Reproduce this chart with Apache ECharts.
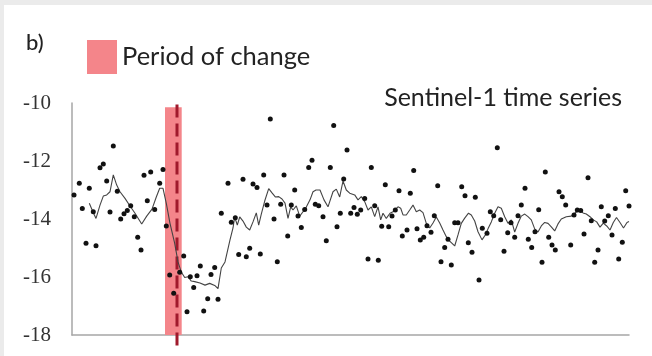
<!DOCTYPE html>
<html>
<head>
<meta charset="utf-8">
<script src="https://cdn.jsdelivr.net/npm/echarts@6/dist/echarts.min.js"></script>
<style>
  html, body { margin: 0; padding: 0; background: #ebebeb; }
  #chart { position: absolute; left: 4px; top: 5px; width: 648px; height: 351px; background: #fff; }
</style>
</head>
<body>
<div id="chart"></div>
<script>
// observation day (relative, no axis labels in the figure) and backscatter in dB
const obsDay = [2,7.3,10.3,14,17.3,21.3,24,28,31.3,34.7,38,41.3,45.3,48.7,52,55.3,58.7,62.3,65.7,69,
  72,75.3,78.7,82.7,87.7,91,94.3,97.7,101.7,107.7,111.7,115,118.3,121.7,125,128.3,131.7,135.7,139,142.7,
  146,149.3,156,159.3,163.3,166.7,171,174.3,177.7,181,185,188.3,191.7,195,198.3,202,205.3,208.7,212,215.7,
  219.3,222.7,226,229.3,232.7,236.7,240,243.3,246.7,251,254.3,258.3,261.7,265,268.3,271.7,275,278.7,282,285.3,
  288.7,292.7,296,299.3,302.7,306.3,309.7,313.3,316.7,320,323.3,327,330.3,335,338.3,341.7,345,348.3,351.7,355,
  359,362.3,365.7,369,372.7,376,379.3,382.7,386,389.7,393,396.3,400,403.3,407,410.3,415,418.3,421.7,425.3,
  428.7,432,435.7,439,442.7,446,449.3,453,456.3,459.7,463,466.7,470,473.3,476.7,480,483.3,487,490.3,493.7,
  498.7,502,505.3,508.7,512,516,519.3,522.7,526,529.3,532.7,536.3,540,543.3,546.7,550.3,553.7,557];
const obsDb = [-13.17,-12.77,-13.64,-14.84,-12.94,-13.75,-14.92,-12.23,-12.10,-12.69,
  -13.76,-11.48,-13.04,-14.00,-13.82,-13.71,-13.54,-13.92,-14.63,-15.07,
  -12.49,-13.37,-12.38,-13.67,-12.77,-12.29,-14.24,-15.93,-16.56,-15.84,
  -15.28,-17.20,-15.99,-16.36,-15.96,-15.62,-17.17,-16.75,-15.91,-15.67,
  -16.77,-13.80,-12.77,-14.11,-13.96,-15.22,-12.63,-15.30,-15.01,-12.79,
  -12.91,-15.21,-12.48,-13.52,-10.55,-14.00,-15.47,-13.49,-12.48,-14.59,
  -13.52,-13.00,-13.90,-14.29,-13.67,-12.22,-11.97,-13.49,-13.54,-13.92,
  -14.75,-12.22,-10.78,-14.27,-13.80,-12.62,-11.62,-13.80,-13.60,-13.84,
  -13.69,-13.29,-15.38,-12.22,-13.54,-15.42,-14.25,-12.82,-14.27,-13.90,
  -13.69,-13.03,-14.59,-14.38,-13.11,-12.33,-14.34,-14.72,-14.63,-14.23,
  -14.46,-13.89,-12.85,-15.47,-14.98,-14.70,-15.59,-14.13,-14.13,-12.89,
  -13.20,-14.82,-15.15,-13.25,-16.10,-14.32,-14.49,-13.75,-13.89,-11.54,
  -14.03,-15.11,-14.47,-14.13,-14.63,-13.89,-13.52,-12.94,-14.70,-14.98,
  -14.44,-13.68,-15.49,-12.38,-14.63,-14.90,-15.07,-13.06,-13.23,-13.52,
  -14.90,-13.86,-13.69,-13.71,-14.52,-12.58,-14.06,-15.49,-15.07,-13.58,
  -14.07,-13.89,-14.55,-13.64,-15.38,-14.80,-13.03,-13.55];

// smoothed curve
const avgDay = [17.3,21,24,28,31.3,34.7,38,41.3,44.7,48,53,58,63,69.7,74.7,80,84.3,87.7,91,94.3,
  98,102.7,106,109.3,112.7,116,119.3,122.7,128,133,137.7,142.7,146,149.3,153,158,161,162.7,165.3,167.7,
  171,174.3,177.7,181,184.3,186.7,189.3,192.7,196.7,200,203.3,206.7,210,213,216,218.7,221,224.3,227.7,231,
  234.3,238,241,244,248,252,256,261,264.3,267.7,271,274.3,277.7,282.7,286,289.3,292.7,296,299.3,302.7,
  306,308.7,311,314.3,318,321,326,328.7,331,334.3,337.7,341,344.3,347.7,351,354.3,357.7,361,364.3,367.7,
  371,374.3,377.7,382.7,386,389.3,392.7,396.5,399.3,402.7,406,410,413.3,416,419.3,422.7,426,429.3,432.7,436,
  439.3,442.7,446,449.3,452.7,456,459.3,462.7,466,469.3,472.7,476,479.3,482.7,486,489.3,494.3,499.3,504.3,507.7,
  511,514.3,518,521.3,524.7,528,531.3,534.7,538,541.3,544.5,548,551.5,555,557];
const avgDb = [-13.46,-13.76,-13.98,-13.52,-13.21,-13.17,-13.06,-12.48,-12.83,-13.06,
  -13.29,-13.55,-13.80,-14.17,-13.90,-13.66,-13.24,-12.94,-12.94,-13.46,
  -14.15,-14.84,-15.48,-15.83,-16.02,-15.99,-16.14,-16.16,-16.21,-16.28,
  -16.22,-16.29,-16.40,-15.69,-15.48,-14.72,-14.31,-13.93,-14.21,-13.93,
  -14.07,-14.28,-14.38,-14.10,-13.79,-14.21,-13.83,-13.38,-12.95,-13.10,
  -13.24,-13.23,-13.31,-13.45,-13.98,-13.58,-13.69,-13.55,-13.90,-13.75,
  -13.59,-13.34,-13.06,-13.00,-13.00,-13.34,-13.58,-13.06,-12.97,-13.24,
  -12.69,-13.00,-13.11,-13.17,-13.34,-13.23,-13.40,-13.69,-13.58,-13.92,
  -13.58,-14.03,-13.80,-13.98,-13.80,-13.75,-13.58,-13.63,-13.86,-13.86,
  -13.69,-13.52,-13.75,-13.69,-13.78,-14.15,-14.31,-14.14,-13.93,-14.14,
  -14.38,-14.61,-14.76,-14.93,-14.55,-14.15,-13.97,-13.80,-13.86,-14.07,
  -14.44,-14.72,-14.55,-14.34,-14.10,-13.80,-13.58,-13.63,-13.92,-14.15,
  -14.03,-14.45,-14.15,-13.90,-13.83,-13.92,-14.03,-14.34,-14.45,-14.24,
  -14.12,-14.15,-14.27,-14.41,-14.17,-14.00,-13.92,-13.90,-13.76,-13.69,
  -13.79,-13.83,-13.92,-14.03,-14.10,-14.28,-14.14,-14.24,-14.38,-14.12,
  -13.95,-14.12,-14.31,-14.12,-14.09];

const yTicks = [-18, -16, -14, -12, -10];
const changePeriod = [93, 109.7];   // start / end day of the change window
const changeDay = 105;
const changeLineDb = [-10.05, -18.55];

const chart = echarts.init(document.getElementById('chart'), null, {renderer: 'canvas'});
const pink = '#f4858a';

const option = {
    animation: false,
    grid: {left: 68, right: 23, top: 98, bottom: 21},
    legend: {
        left: 78, top: 30,
        itemWidth: 30, itemHeight: 34,
        selectedMode: false,
        data: [{name: 'Period of change', icon: 'rect'}],
        textStyle: {fontFamily: 'Lato', fontSize: 25.5, color: '#222'}
    },
    graphic: [
        {type: 'text', x: 22, y: 38, style: {text: 'b)', font: '500 22px Lato', fill: '#222', align: 'left', verticalAlign: 'middle'}},
        {type: 'text', x: 618, y: 93, style: {text: 'Sentinel-1 time series', font: '25px Lato', fill: '#222', align: 'right', verticalAlign: 'middle'}}
    ],
    xAxis: {
        type: 'value', min: 0, max: 557,
        axisLine: {show: true, lineStyle: {color: '#a6a6a6', width: 1.5}},
        axisTick: {show: false}, axisLabel: {show: false}, splitLine: {show: false}
    },
    yAxis: {
        type: 'value',
        min: yTicks[0], max: yTicks[yTicks.length - 1], interval: yTicks[1] - yTicks[0],
        axisLine: {show: true, lineStyle: {color: '#a6a6a6', width: 1.5}},
        axisTick: {show: false},
        splitLine: {show: false},
        axisLabel: {margin: 21, fontFamily: 'Liberation Serif', fontSize: 21, color: '#333'}
    },
    series: [
        {
            name: 'Period of change',
            type: 'scatter',
            data: [],
            itemStyle: {color: pink, opacity: 1},
            z: 1,
            markArea: {
                silent: true,
                itemStyle: {color: pink, opacity: 1},
                data: [[{xAxis: changePeriod[0], yAxis: -10.15}, {xAxis: changePeriod[1], yAxis: yTicks[0]}]]
            }
        },
        {
            name: 'change',
            type: 'line',
            clip: false,
            symbol: 'none',
            z: 2,
            lineStyle: {color: '#a01a2c', width: 3, type: [13, 6]},
            data: changeLineDb.map(v => [changeDay, v])
        },
        {
            name: 'smoothed',
            type: 'line',
            symbol: 'none',
            z: 3,
            lineStyle: {color: '#444', width: 1.1},
            data: avgDay.map((d, i) => [d, avgDb[i]])
        },
        {
            name: 'observations',
            type: 'scatter',
            symbolSize: 5,
            z: 4,
            itemStyle: {color: '#111', opacity: 1},
            data: obsDay.map((d, i) => [d, obsDb[i]])
        }
    ]
};
chart.setOption(option);
</script>
</body>
</html>
